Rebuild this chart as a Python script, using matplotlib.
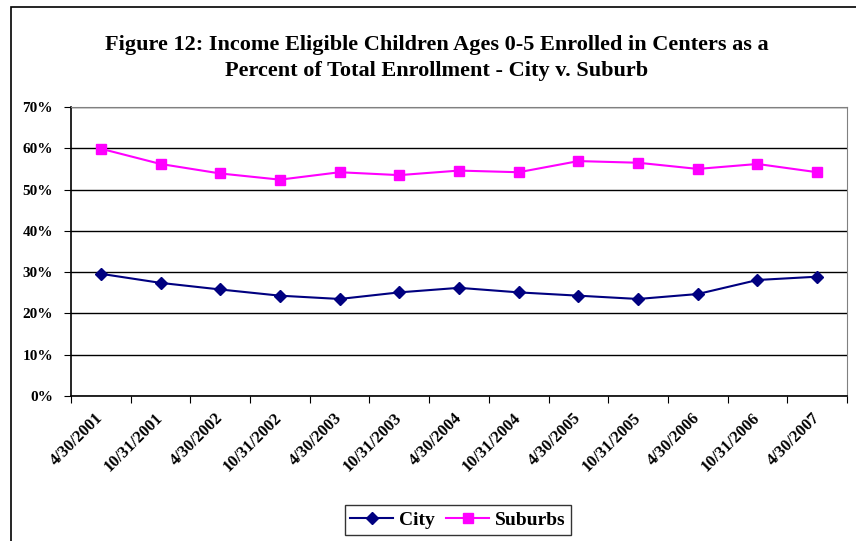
import matplotlib.pyplot as plt
from matplotlib.patches import Rectangle
from matplotlib.ticker import FuncFormatter, MultipleLocator

plt.rcParams['font.family'] = ['Liberation Serif', 'DejaVu Serif']
plt.rcParams['font.weight'] = 'bold'

dates = ['4/30/2001', '10/31/2001', '4/30/2002', '10/31/2002', '4/30/2003',
         '10/31/2003', '4/30/2004', '10/31/2004', '4/30/2005', '10/31/2005',
         '4/30/2006', '10/31/2006', '4/30/2007']
city = [29.6, 27.4, 25.8, 24.3, 23.5, 25.1, 26.2, 25.1, 24.3, 23.5, 24.7, 28.1, 28.9]
suburbs = [59.9, 56.2, 53.9, 52.4, 54.2, 53.5, 54.6, 54.2, 56.9, 56.5, 55.0, 56.2, 54.2]

fig = plt.figure(figsize=(8.56, 5.41), dpi=100)
ax = fig.add_axes([71 / 856, 1 - 396 / 541, 776 / 856, 289 / 541])

# outer chart border (runs off the right and bottom edge)
fig.patches.append(Rectangle((11 / 856, -0.1), 1.2, 1 - 7 / 541 + 0.1,
                             transform=fig.transFigure, fill=False,
                             edgecolor='black', linewidth=1.2))

x = [i + 0.5 for i in range(len(dates))]
ax.plot(x, city, color='#000080', marker='D', markersize=6.5, linewidth=1.5, label='City')
ax.plot(x, suburbs, color='#FF00FF', marker='s', markersize=7, linewidth=1.5, label='Suburbs')

ax.set_xlim(0, len(dates))
ax.set_ylim(0, 70)
ax.yaxis.set_major_locator(MultipleLocator(10))
ax.yaxis.set_major_formatter(FuncFormatter(lambda v, p: '%d%%' % v))
ax.grid(axis='y', color='black', linewidth=1)
ax.set_axisbelow(True)

ax.set_xticks(range(len(dates) + 1))
ax.set_xticklabels([])
ax.set_xticks(x, minor=True)
ax.set_xticklabels(dates, minor=True, rotation=45, ha='right', va='center',
                   rotation_mode='anchor', fontsize=12, fontweight='bold')
ax.tick_params(axis='x', which='minor', length=0, pad=14)
ax.tick_params(axis='x', which='major', length=5, direction='out', color='black')
ax.tick_params(axis='y', length=5, direction='out', labelsize=11, pad=8)

for s in ['top', 'right']:
    ax.spines[s].set_color('#808080')
for s in ['left', 'bottom']:
    ax.spines[s].set_color('black')
    ax.spines[s].set_linewidth(1.2)

fig.text(437 / 856, 1 - 58 / 541,
         'Figure 12: Income Eligible Children Ages 0-5 Enrolled in Centers as a\n'
         'Percent of Total Enrollment - City v. Suburb',
         ha='center', va='center', fontsize=16, fontweight='bold', linespacing=1.45)

leg = fig.legend(loc='center', bbox_to_anchor=(458 / 856, 1 - 520 / 541), ncol=2,
                 frameon=True, fancybox=False, edgecolor='black', fontsize=14,
                 handlelength=2.2, columnspacing=0.6, handletextpad=0.3, borderpad=0.3)
leg.get_frame().set_linewidth(1)

fig.savefig('out.png', dpi=100)
